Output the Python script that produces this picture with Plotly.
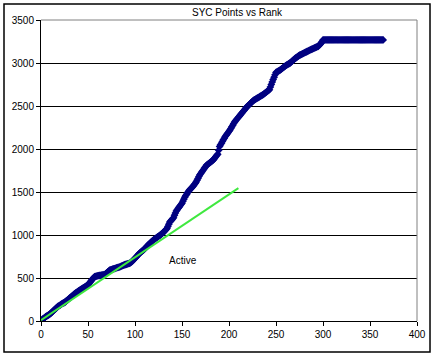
import plotly.graph_objects as go

title_text = "SYC Points vs Rank"
label_text = "Active"

points = [
    15, 23, 30, 40, 50, 57, 63, 70, 78, 85,
    96, 107, 118, 128, 138, 148, 158, 170, 176, 182,
    190, 198, 205, 210, 215, 224, 233, 243, 252, 262,
    271, 280, 290, 299, 308, 317, 326, 334, 342, 350,
    357, 364, 371, 378, 385, 392, 399, 406, 413, 420,
    434, 448, 462, 476, 490, 503, 515, 518, 521, 525,
    527, 529, 531, 533, 535, 536, 538, 540, 550, 560,
    570, 580, 590, 594, 598, 602, 606, 610, 613, 617,
    620, 623, 627, 630, 635, 640, 645, 650, 654, 657,
    660, 664, 668, 671, 675, 685, 695, 705, 717, 729,
    741, 753, 765, 778, 790, 799, 808, 816, 825, 837,
    848, 860, 872, 884, 895, 905, 915, 925, 935, 945,
    953, 961, 969, 977, 985, 993, 1000, 1010, 1020, 1030,
    1040, 1052, 1063, 1075, 1100, 1125, 1150, 1163, 1175, 1188,
    1200, 1230, 1255, 1280, 1295, 1310, 1325, 1340, 1355, 1370,
    1393, 1417, 1440, 1458, 1475, 1493, 1510, 1522, 1534, 1546,
    1558, 1570, 1585, 1600, 1615, 1636, 1658, 1679, 1700, 1716,
    1732, 1747, 1763, 1779, 1795, 1810, 1819, 1827, 1836, 1844,
    1853, 1861, 1870, 1884, 1898, 1912, 1926, 1940, 1985, 2030,
    2049, 2068, 2088, 2107, 2126, 2145, 2160, 2175, 2190, 2205,
    2220, 2239, 2258, 2277, 2296, 2315, 2328, 2342, 2355, 2368,
    2382, 2395, 2409, 2422, 2436, 2449, 2463, 2476, 2490, 2501,
    2511, 2522, 2533, 2543, 2554, 2565, 2572, 2578, 2585, 2591,
    2598, 2604, 2611, 2617, 2624, 2630, 2639, 2647, 2656, 2664,
    2673, 2681, 2690, 2720, 2750, 2780, 2808, 2835, 2863, 2890,
    2896, 2902, 2909, 2915, 2924, 2932, 2941, 2949, 2958, 2966,
    2975, 2981, 2988, 2994, 3000, 3010, 3020, 3030, 3040, 3050,
    3058, 3066, 3074, 3082, 3090, 3095, 3101, 3106, 3112, 3117,
    3123, 3128, 3134, 3139, 3145, 3150, 3155, 3160, 3165, 3170,
    3175, 3180, 3185, 3190, 3195, 3207, 3218, 3230, 3249, 3268,
    3268, 3268, 3268, 3268, 3268, 3268, 3268, 3268, 3268, 3268,
    3268, 3268, 3268, 3268, 3268, 3268, 3268, 3268, 3268, 3268,
    3268, 3268, 3268, 3268, 3268, 3268, 3268, 3268, 3268, 3268,
    3268, 3268, 3268, 3268, 3268, 3268, 3268, 3268, 3268, 3268,
    3268, 3268, 3268, 3268, 3268, 3268, 3268, 3268, 3268, 3268,
    3268, 3268, 3268, 3268, 3268, 3268, 3268, 3268, 3268, 3268,
    3268, 3268, 3268, 3268,
]
ranks = list(range(1, len(points) + 1))

active_x = [0, 210]
active_y = [10, 1545]

x_ticks = [0, 50, 100, 150, 200, 250, 300, 350, 400]
y_ticks = [0, 500, 1000, 1500, 2000, 2500, 3000, 3500]

font = "Liberation Sans, Arial, sans-serif"

fig = go.Figure()
fig.add_trace(go.Scatter(
    x=ranks, y=points, mode="markers",
    marker=dict(symbol="diamond", size=6, color="#000080",
                line=dict(width=0)),
    showlegend=False, hoverinfo="skip",
))
fig.add_trace(go.Scatter(
    x=active_x, y=active_y, mode="lines",
    line=dict(color="#3fe83f", width=2),
    showlegend=False, hoverinfo="skip",
))

fig.update_layout(
    width=440, height=358,
    margin=dict(l=41, r=23, t=20, b=37),
    paper_bgcolor="white", plot_bgcolor="white",
    font=dict(family=font, size=10, color="#000000"),
    xaxis=dict(range=[0, 400], tickvals=x_ticks, showgrid=False,
               automargin=False,
               zeroline=False, showline=True, linecolor="#000000",
               linewidth=1, ticks="outside", ticklen=4,
               tickcolor="#000000", tickfont=dict(size=10)),
    yaxis=dict(range=[0, 3500], tickvals=y_ticks, showgrid=True,
               automargin=False,
               gridcolor="#000000", gridwidth=1,
               zeroline=False, showline=True, linecolor="#000000",
               linewidth=1, ticks="outside", ticklen=4,
               tickcolor="#000000", tickfont=dict(size=10)),
    shapes=[
        dict(type="line", xref="paper", yref="paper", x0=0, x1=1, y0=1, y1=1,
             line=dict(color="#808080", width=1), layer="above"),
        dict(type="line", xref="paper", yref="paper", x0=1, x1=1, y0=0, y1=1,
             line=dict(color="#808080", width=1), layer="above"),
        dict(type="rect", xref="paper", yref="paper",
             x0=-0.0984, x1=1.0346, y0=-0.103, y1=1.0532,
             line=dict(color="#000000", width=1.5)),
    ],
    annotations=[
        dict(text=title_text, xref="paper", yref="paper",
             x=(237 - 41) / 376, y=(321 - 12) / 301,
             showarrow=False, font=dict(size=10),
             xanchor="center", yanchor="middle"),
        dict(text=label_text, x=151.4, y=698, xref="x", yref="y",
             showarrow=False, font=dict(size=10),
             xanchor="center", yanchor="middle"),
    ],
)

fig.write_html(
    "out.html",
    config={"displayModeBar": False},
    post_script="document.body.style.margin='0';document.body.style.padding='0';",
)
